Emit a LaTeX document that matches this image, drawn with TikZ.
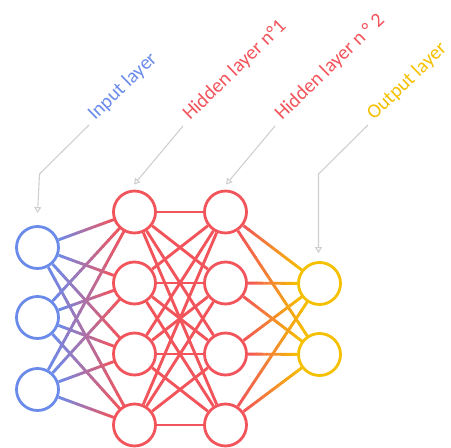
\documentclass[tikz,border=0pt]{standalone}
\usepackage{fontspec}
\setmainfont{Carlito}
\usetikzlibrary{calc,arrows.meta,backgrounds}
\definecolor{inblue}{HTML}{6B8BEB}
\definecolor{hidred}{HTML}{F2545B}
\definecolor{outyel}{HTML}{F5C000}
\definecolor{leadgray}{HTML}{CFCFCF}
\newcommand\gedge[4]{%
  \path ($(#1)!22.5pt!(#2)$) coordinate (gs) ($(#2)!22.5pt!(#1)$) coordinate (ge);
  \foreach \k in {0,...,11}{%
    \pgfmathsetmacro\ta{\k/12}%
    \pgfmathsetmacro\tb{(\k+1.08)/12}%
    \pgfmathtruncatemacro\pc{(\k+0.5)/12*100}%
    \draw[edge, color=#4!\pc!#3] ($(gs)!\ta!(ge)$) -- ($(gs)!\tb!(ge)$);}%
}
\begin{document}
\begin{tikzpicture}[x=1pt,y=-1pt,
  neuron/.style={circle, draw, line width=2.8pt, fill=white, minimum size=42pt, inner sep=0pt},
  edge/.style={line width=2.9pt, line cap=butt},
  lbl/.style={font=\fontsize{20}{20}\selectfont, rotate=44, anchor=base west, inner sep=0pt},
  leader/.style={draw=leadgray, line width=1.1pt, -{Triangle[open,length=6pt,width=7pt]}}]
\useasboundingbox (0,0) rectangle (451,448);
% neurons
\node[neuron, draw=inblue] (i1) at (37.5,247.5) {};
\node[neuron, draw=inblue] (i2) at (37.5,317.5) {};
\node[neuron, draw=inblue] (i3) at (37.5,389.5) {};
\node[neuron, draw=hidred] (ha1) at (134.5,212) {};
\node[neuron, draw=hidred] (ha2) at (134.5,283) {};
\node[neuron, draw=hidred] (ha3) at (134.5,354) {};
\node[neuron, draw=hidred] (ha4) at (134.5,425) {};
\node[neuron, draw=hidred] (hb1) at (225.5,212) {};
\node[neuron, draw=hidred] (hb2) at (225.5,283) {};
\node[neuron, draw=hidred] (hb3) at (225.5,354) {};
\node[neuron, draw=hidred] (hb4) at (225.5,425) {};
\node[neuron, draw=outyel] (o1) at (319.5,283.5) {};
\node[neuron, draw=outyel] (o2) at (319.5,354.5) {};
% connectors
\begin{pgfonlayer}{background}
\foreach \i in {1,2,3}{\foreach \j in {1,...,4}{\gedge{i\i}{ha\j}{inblue}{hidred}}}
\foreach \i in {1,...,4}{\foreach \j in {1,...,4}{\draw[edge, hidred] (ha\i) -- (hb\j);}}
\foreach \i in {1,...,4}{\foreach \j in {1,2}{\gedge{hb\i}{o\j}{hidred}{outyel}}}
\end{pgfonlayer}
% labels
\node[lbl, text=inblue] (tin) at (95,121) {Input layer};
\node[lbl, text=hidred] (th1) at (190,121) {Hidden layer n°1};
\node[lbl, text=hidred] (th2) at (282,121) {Hidden layer n ° 2};
\node[lbl, text=outyel] (tout) at (374,121) {Output layer};
% leaders
\coordinate (lin) at (89,125);
\coordinate (lh1) at (183,126);
\coordinate (lh2) at (275,126);
\coordinate (lout) at (368,125);
\coordinate (bin) at (39.5,174);
\coordinate (bout) at (318.5,174);
\draw[leader] (lin) -- (bin) -- ($(i1.north)+(0,-12)$);
\draw[leader] (lh1) -- ($(ha1.north)+(-0.5,-5)$);
\draw[leader] (lh2) -- ($(hb1.north)+(0.5,-5)$);
\draw[leader] (lout) -- (bout) -- ($(o1.north)+(-1,-8)$);
\end{tikzpicture}
\end{document}
